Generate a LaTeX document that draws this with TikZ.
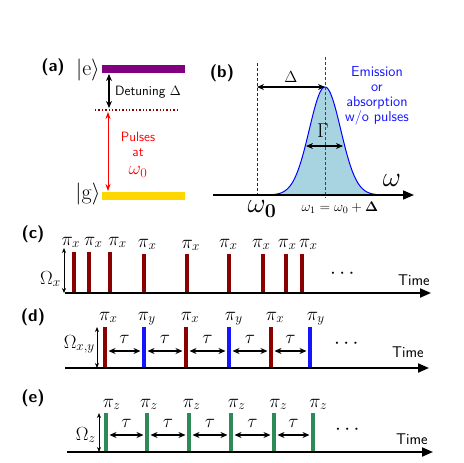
\RequirePackage{fix-cm}
\documentclass[tikz,border=0pt]{standalone}
\usepackage{amsmath}
\usetikzlibrary{arrows.meta}
\definecolor{dred}{RGB}{139,0,0}
\definecolor{pgreen}{RGB}{46,139,87}
\definecolor{lblue}{RGB}{168,212,226}
\definecolor{purp}{RGB}{128,0,128}
\definecolor{gold}{RGB}{255,215,0}
\definecolor{pblue}{RGB}{20,20,255}
\begin{document}
\begin{tikzpicture}[x=1pt,y=-1pt,
  panel/.style={font=\fontsize{17}{20}\selectfont\sffamily\bfseries, inner sep=0pt},
  txt/.style={font=\fontsize{13.5}{15.5}\selectfont\sffamily, align=center, inner sep=0pt},
  mth/.style={font=\fontsize{19}{21}\selectfont, inner sep=0pt},
  timetxt/.style={font=\fontsize{15.5}{17}\selectfont\sffamily, inner sep=0pt, anchor=base west},
  axisline/.style={line width=2pt, -{Triangle[length=11pt,width=9pt]}},
  dbl/.style={line width=1.3pt, {Stealth[length=7pt,width=6pt]}-{Stealth[length=7pt,width=6pt]}},
  thinarr/.style={line width=0.7pt, {Stealth[length=5pt,width=4pt]}-{Stealth[length=5pt,width=4pt]}},
  pulse/.style={line width=4.5pt},
  bar/.style={inner sep=0pt, minimum width=83pt, minimum height=8pt},
  dotsnode/.style={font=\fontsize{21}{22}\selectfont, inner sep=0pt, anchor=base},
]
\useasboundingbox (0,0) rectangle (463,463);

% ---------------- (a)
\node[panel] (la) at (53,67) {(a)};
\node[bar, fill=purp] (ebar) at (143.5,69) {};
\node[bar, fill=gold] (gbar) at (143.5,195.5) {};
\node[mth, font=\fontsize{22}{24}\selectfont] (ket e) at (88,70) {$|\mathrm{e}\rangle$};
\node[mth, font=\fontsize{22}{24}\selectfont] (ket g) at (88,194) {$|\mathrm{g}\rangle$};
\coordinate (dl) at (95,110);
\coordinate (dr) at (177,110);
\draw[dred, dotted, line width=1.4pt] (dl) -- (dr);
\coordinate (det top) at (109,74);
\coordinate (det bot) at (109,108);
\draw[dbl, line width=1.2pt] (det top) -- (det bot);
\coordinate (pul top) at (108,112);
\coordinate (pul bot) at (108,191);
\draw[red, line width=0.8pt, {Stealth[length=7pt,width=5pt]}-{Stealth[length=7pt,width=5pt]}] (pul top) -- (pul bot);
\node[txt, anchor=west] (detuning) at (115,92) {Detuning $\Delta$};
\node[txt, red, font=\fontsize{13.5}{15}\selectfont\sffamily] (pulses) at (138,155) {Pulses\\at\\[3pt]{\fontsize{19}{19}\selectfont$\omega_0$}};

% ---------------- (b)
\node[panel] (lb) at (222,73) {(b)};
\coordinate (w0 top) at (257,63);
\coordinate (w0 bot) at (257,195);
\draw[dred, dashed, line width=0.8pt, dash pattern=on 3pt off 2pt] (w0 top) -- (w0 bot);
\draw[blue, line width=1pt, fill=lblue] plot[domain=-57:57, samples=120] ({325+\x},{195-108*exp(-(\x*\x)/493)}) -- cycle;
\coordinate (w1 top) at (325,57);
\coordinate (w1 bot) at (325,198);
\draw[black!75, line width=0.7pt, dash pattern=on 3pt off 2pt] (w1 top) -- (w1 bot);
\coordinate (ax b0) at (213,195);
\coordinate (ax b1) at (414,195);
\draw[line width=1.6pt, -{Triangle[length=11pt,width=9pt]}] (ax b0) -- (ax b1);
\coordinate (D l) at (257,87);
\coordinate (D r) at (325,87);
\draw[dbl] (D l) -- (D r);
\node[mth, font=\fontsize{16}{18}\selectfont] (Delta) at (291,77) {$\Delta$};
\coordinate (G l) at (306,146);
\coordinate (G r) at (343,146);
\draw[dbl] (G l) -- (G r);
\node[mth, font=\fontsize{20}{22}\selectfont] (Gamma) at (323,131) {$\Gamma$};
\node[mth, font=\fontsize{28}{30}\selectfont] (omega) at (392,180) {$\omega$};
\node[mth, font=\fontsize{28}{30}\selectfont] (omega0) at (262,209) {$\omega_{\mathbf{0}}$};
\node[mth, font=\fontsize{14}{16}\selectfont] (omega1) at (340,208) {$\omega_1=\omega_0+\mathbf{\Delta}$};
\node[txt, pblue, font=\fontsize{14.5}{15}\selectfont\sffamily] (emis) at (377,96) {Emission\\or\\absorption\\w/o pulses};

% ---------------- (c)
\node[panel] (lc) at (33,234) {(c)};
\foreach \x/\t/\lx/\ly [count=\i] in {74/252/70.8/245, 89/252/93.3/245, 110/252/117.5/245, 144/254/147.2/247, 187/254/190.8/248, 229/254/228.3/247, 263/254/261.3/247, 286/254/287.2/247, 302/254/308.3/247} {
  \coordinate (cb\i) at (\x,293);
  \coordinate (ct\i) at (\x,\t);
  \draw[pulse, dred] (cb\i) -- (ct\i);
  \node[mth, anchor=base] (pc\i) at (\lx,\ly) {$\pi_x$};
}
\coordinate (Oc b) at (64,293);
\coordinate (Oc t) at (64,248);
\draw[thinarr] (Oc t) -- (Oc b);
\node[mth, anchor=base east] (Oc) at (61,284) {$\Omega_x$};
\node[dotsnode] (dc) at (344,278) {$\cdots$};
\node[timetxt] (tc) at (398,285) {Time};
\coordinate (ax c0) at (65,293);
\coordinate (ax c1) at (431,293);
\draw[axisline] (ax c0) -- (ax c1);

% ---------------- (d)
\node[panel] (ld) at (33,317) {(d)};
\foreach \x/\c/\lx/\s [count=\i] in {105/dred/108.3/x, 144/pblue/146.7/y, 186/dred/190/x, 229/pblue/233.8/y, 271/dred/275/x, 310/pblue/315.8/y} {
  \coordinate (db\i) at (\x,368);
  \coordinate (dt\i) at (\x,327);
  \coordinate (dm\i) at (\x,351);
  \draw[pulse, \c] (db\i) -- (dt\i);
  \node[mth, anchor=base] (pd\i) at (\lx,320) {$\pi_\s$};
}
\foreach \a/\b in {1/2,2/3,3/4,4/5,5/6} {
  \draw[dbl, shorten <=3.5pt, shorten >=3.5pt] (dm\a) -- (dm\b);
  \path (dm\a) -- node[mth, anchor=base, pos=0.5, yshift=8pt] (taud\a) {$\tau$} (dm\b);
}
\coordinate (Od b) at (97,368);
\coordinate (Od t) at (97,327);
\draw[thinarr] (Od t) -- (Od b);
\node[mth, anchor=base east] (Od) at (95,348) {$\Omega_{x,y}$};
\node[dotsnode] (dd) at (348,348) {$\cdots$};
\node[timetxt] (td) at (392,357) {Time};
\coordinate (ax d0) at (65,368);
\coordinate (ax d1) at (429,368);
\draw[axisline] (ax d0) -- (ax d1);

% ---------------- (e)
\node[panel] (le) at (33,398) {(e)};
\foreach \x/\lx [count=\i] in {106/111.7, 147/149, 189/191.7, 231/236.7, 274/278.3, 313/318.3} {
  \coordinate (eb\i) at (\x,452);
  \coordinate (et\i) at (\x,413);
  \coordinate (em\i) at (\x,435);
  \draw[pulse, pgreen, line width=4pt] (eb\i) -- (et\i);
  \node[mth, anchor=base] (pe\i) at (\lx,407) {$\pi_z$};
}
\foreach \a/\b in {1/2,2/3,3/4,4/5,5/6} {
  \draw[dbl, shorten <=3.5pt, shorten >=3.5pt] (em\a) -- (em\b);
  \path (em\a) -- node[mth, anchor=base, pos=0.5, yshift=8pt] (taue\a) {$\tau$} (em\b);
}
\coordinate (Oe b) at (99,452);
\coordinate (Oe t) at (99,413);
\draw[thinarr] (Oe t) -- (Oe b);
\node[mth, anchor=base east] (Oe) at (96,440) {$\Omega_z$};
\node[dotsnode] (de) at (349,434) {$\cdots$};
\node[timetxt] (te) at (396,444) {Time};
\coordinate (ax e0) at (67,452);
\coordinate (ax e1) at (433,452);
\draw[axisline] (ax e0) -- (ax e1);
\end{tikzpicture}
\end{document}
